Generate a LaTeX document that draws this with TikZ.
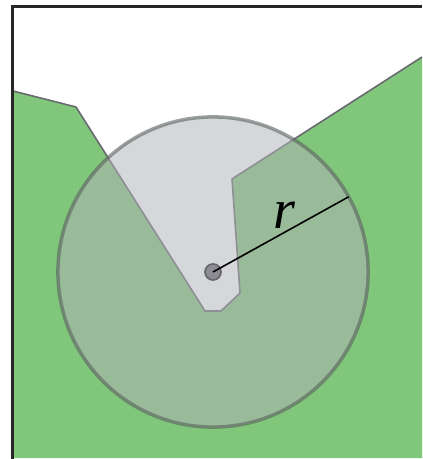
\documentclass[tikz,border=0pt]{standalone}
\usepackage{amsmath,amssymb}
\usepackage{xcolor}
\usepackage{fontspec}
\newfontfamily\labelfont{Liberation Serif}
\usepackage{tikz}
\usetikzlibrary{calc}

\definecolor{landgreen}{RGB}{128,198,123}
\definecolor{edgegray}{RGB}{105,105,112}
\definecolor{diskgray}{RGB}{176,178,184}
\definecolor{rimgray}{RGB}{90,96,94}
\definecolor{dotgray}{RGB}{140,140,146}

\begin{document}
\begin{tikzpicture}[x=0.01cm, y=-0.01cm,
  land/.style={fill=landgreen, draw=none},
  shore/.style={draw=edgegray, line width=.45pt, line join=round},
  disk/.style={fill=diskgray, fill opacity=.52, draw=rimgray, draw opacity=.6, line width=1pt},
  spoke/.style={draw=black, line width=.45pt},
  pivot/.style={circle, fill=dotgray, draw=edgegray, line width=.5pt, minimum size=0.16cm, inner sep=0pt},
  frame/.style={draw=black!85, line width=.6pt}
]
\useasboundingbox (0,0) rectangle (422,459);
% ground with the notch
\fill[land] (13,91) -- (76,107) -- (205,311) -- (221,311) -- (240,293) -- (232,179) -- (422,57) -- (422,458) -- (13,458) -- cycle;
\draw[shore] (13,91) -- (76,107) -- (205,311) -- (221,311) -- (240,293) -- (232,179) -- (422,57);
% search disk
\coordinate (c) at (213,272);
\coordinate (rim) at ($(c)+(29:1.55cm)$);
\draw[disk] (c) circle[radius=1.55cm];
\node[pivot] (p) at (c) {};
\draw[spoke] (c) -- (rim);
\node[font=\labelfont\itshape\fontsize{16}{19}\selectfont] (r) at (284,215) {r};
% frame
\draw[frame] (12.5,459) -- (12.5,6.5) -- (422,6.5);
\end{tikzpicture}
\end{document}
